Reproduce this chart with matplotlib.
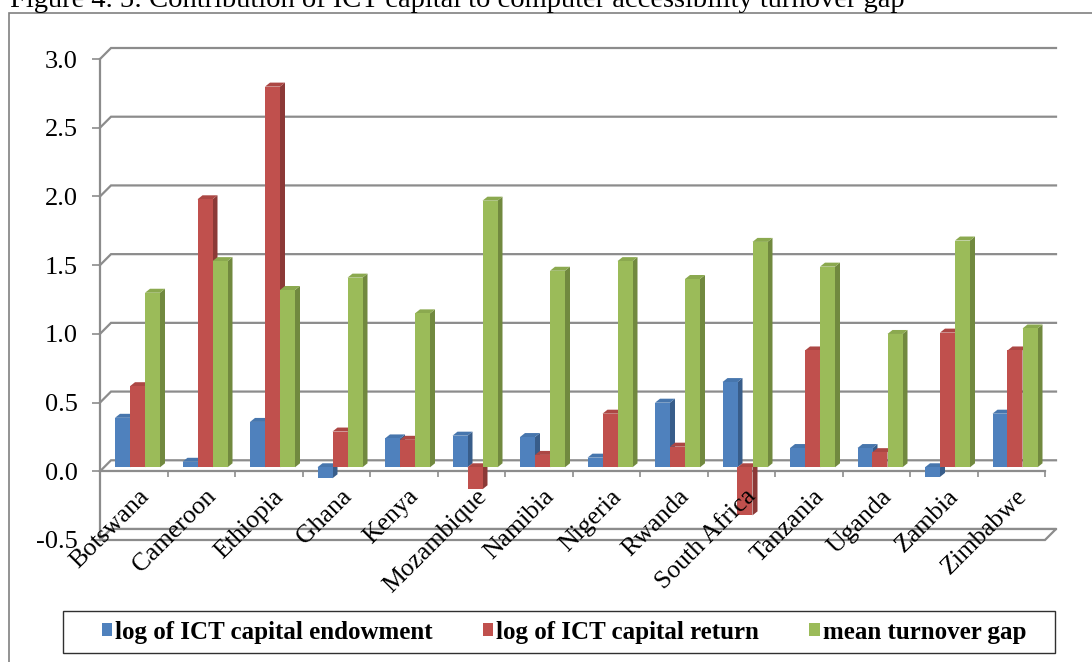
import numpy as np
import matplotlib
matplotlib.use("Agg")
import matplotlib.pyplot as plt
import matplotlib.transforms as mtransforms
from matplotlib.patches import Polygon, Rectangle, Patch
from matplotlib.ticker import FormatStrFormatter

plt.rcParams['font.family'] = ['Liberation Serif', 'DejaVu Serif']
plt.rcParams['axes.unicode_minus'] = False

countries = ["Botswana", "Cameroon", "Ethiopia", "Ghana", "Kenya", "Mozambique",
             "Namibia", "Nigeria", "Rwanda", "South Africa", "Tanzania", "Uganda",
             "Zambia", "Zimbabwe"]
endowment = [0.36, 0.04, 0.33, -0.08, 0.21, 0.23, 0.22, 0.07, 0.47, 0.62, 0.14, 0.14, -0.07, 0.39]
ict_return = [0.59, 1.95, 2.77, 0.26, 0.20, -0.16, 0.09, 0.39, 0.15, -0.35, 0.85, 0.11, 0.98, 0.85]
turnover_gap = [1.27, 1.50, 1.29, 1.38, 1.12, 1.94, 1.43, 1.50, 1.37, 1.64, 1.46, 0.97, 1.65, 1.01]
series_names = ["log of ICT capital endowment", "log of ICT capital return", "mean turnover gap"]
yticks = [-0.5, 0.0, 0.5, 1.0, 1.5, 2.0, 2.5, 3.0]

# front, side, top shades (Office palette)
shades = [("#4F81BD", "#385D8A", "#4776AD"),
          ("#C0504D", "#8C3937", "#AC4744"),
          ("#9BBB59", "#71893F", "#8BA94F")]
grid_col = "#8C8C8C"

W, H, DPI = 1092, 662, 100
fig = plt.figure(figsize=(W / DPI, H / DPI), dpi=DPI)
ax = fig.add_axes([100 / W, (H - 540) / H, 945 / W, 481 / H])
n = len(countries)
ax.set_xlim(-0.5, n - 0.5)
ax.set_ylim(-0.5, 3.0)
ax.patch.set_visible(False)

# pixel -> data unit conversion
sx = 945 / n
sy = 481 / 3.5
def px(dx, dy):
    return dx / sx, dy / sy

# back wall gridlines with the 3-D slant at the left end
bx, by = px(11, 11)
for v in yticks:
    ax.plot([-0.5, -0.5 + bx, n - 0.5 + bx], [v, v + by, v + by],
            color=grid_col, lw=1.6, clip_on=False, zorder=1, solid_joinstyle='miter')

# floor slab
floor = Polygon([(-0.5, -0.5), (n - 0.5, -0.5), (n - 0.5 + bx, -0.5 + by), (-0.5 + bx, -0.5 + by)],
                closed=True, fc="white", ec=grid_col, lw=1.6, zorder=1.5, clip_on=False)
ax.add_patch(floor)

# bars sit a few pixels behind the front axis
shift = ax.transData + mtransforms.ScaledTranslation(0, 4 / DPI, fig.dpi_scale_trans)
bw = 15 / sx
ddx, ddy = px(5, 4)
x = np.arange(n)
for k, vals in enumerate([endowment, ict_return, turnover_gap]):
    front, side, top = shades[k]
    left = x - 0.5 + 15 / sx + k * bw
    z = 5 + k
    for x0, v in zip(left, vals):
        lo, hi = min(0, v), max(0, v)
        x1 = x0 + bw
        ax.add_patch(Polygon([(x1, lo), (x1 + ddx, lo + ddy), (x1 + ddx, hi + ddy), (x1, hi)],
                             fc=side, ec="none", transform=shift, zorder=z, clip_on=False))
        ax.add_patch(Polygon([(x0, hi), (x0 + ddx, hi + ddy), (x1 + ddx, hi + ddy), (x1, hi)],
                             fc=top, ec="none", transform=shift, zorder=z, clip_on=False))
    bars = ax.bar(left, vals, width=bw, align='edge', color=front, zorder=z, clip_on=False)
    for b in bars:
        b.set_transform(shift)

# axes styling
for s in ["top", "right"]:
    ax.spines[s].set_visible(False)
ax.spines["left"].set_color(grid_col)
ax.spines["left"].set_linewidth(1.6)
ax.spines["bottom"].set_position(("data", 0))
ax.spines["bottom"].set_color(grid_col)
ax.spines["bottom"].set_linewidth(1.6)
ax.set_yticks(yticks)
ax.yaxis.set_major_formatter(FormatStrFormatter("%.1f"))
ax.tick_params(axis="y", length=5.8, width=1.2, color=grid_col, pad=10, labelsize=19)
ax.set_xticks(x)
ax.set_xticklabels([])
ax.set_xticks(np.arange(-0.5, n, 1.0), minor=True)
ax.tick_params(axis="x", which="major", length=0)
ax.tick_params(axis="x", which="minor", length=4.5, width=1.2, color=grid_col, direction="out")

lbl_tr = ax.transData + mtransforms.ScaledTranslation(4 / DPI, -14 / DPI, fig.dpi_scale_trans)
for i, name in enumerate(countries):
    ax.text(i, 0, name, transform=lbl_tr, rotation=45, ha="right", va="top",
            rotation_mode="anchor", fontsize=18.5, zorder=10)

# caption, mostly cut off by the top edge
fig.text(10 / W, 1 - 7 / H, "Figure 4. 5: Contribution of ICT capital to computer accessibility turnover gap",
         fontsize=20.5, va="baseline", ha="left")

# outer chart border
fig.add_artist(Rectangle((9 / W, -0.1), 1.2, 1 - 13 / H + 0.1, transform=fig.transFigure,
                         fill=False, ec="#808080", lw=1.2))

# legend with its own box
handles = [Patch(fc=c[0]) for c in shades]
fig.legend(handles, series_names, loc="center", bbox_to_anchor=(564 / W, 1 - 632 / H),
           ncol=3, frameon=False, handlelength=0.42, handleheight=0.42, handletextpad=0.12,
           columnspacing=2.0, prop={"family": "Liberation Serif", "weight": "bold", "size": 18})
fig.add_artist(Rectangle((63 / W, 1 - 653 / H), 992 / W, 42 / H, transform=fig.transFigure,
                         fill=False, ec="#303030", lw=1.0))

fig.savefig("out.png", dpi=DPI)
